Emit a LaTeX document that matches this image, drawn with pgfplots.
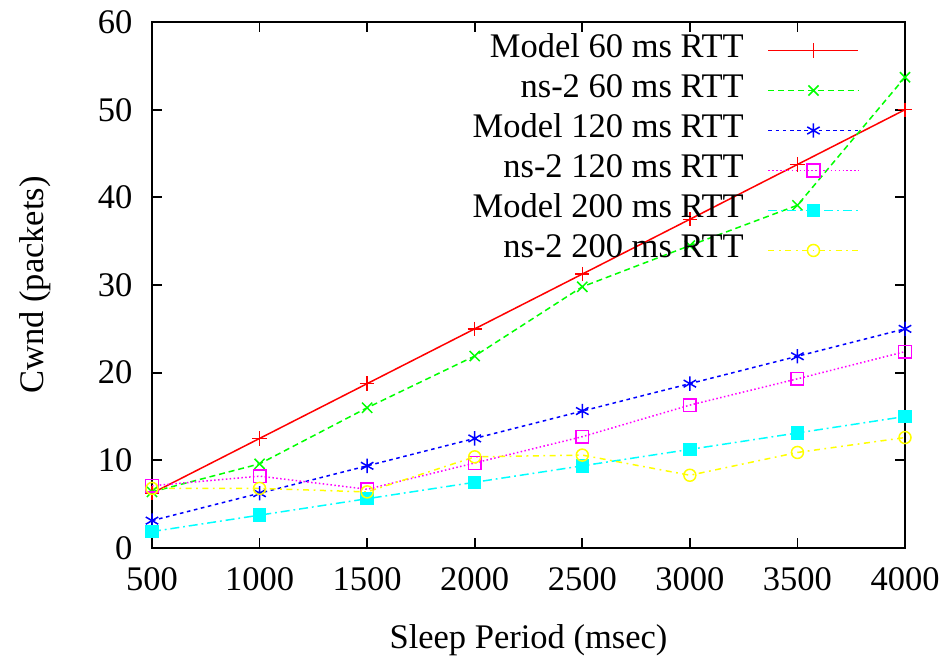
\documentclass[border=0pt]{standalone}
\usepackage{fontspec}
\setmainfont{Liberation Serif}
\usepackage{pgfplots}
\pgfplotsset{compat=1.18}
\definecolor{gpred}{RGB}{255,0,0}
\definecolor{gpgreen}{RGB}{0,255,0}
\definecolor{gpblue}{RGB}{0,0,255}
\definecolor{gpmag}{RGB}{255,0,255}
\definecolor{gpcyan}{RGB}{0,255,255}
\definecolor{gpyel}{RGB}{255,255,0}

\begin{document}
\begin{tikzpicture}
% page size fixed to the reference proportions (3 px per pt)
\useasboundingbox (-50.67pt,-40pt) rectangle (265.33pt,182.67pt);
\begin{axis}[
    at={(0,0)}, anchor=south west,
    scale only axis,
    width=251pt, height=175.33pt,
    xmin=500, xmax=4000, ymin=0, ymax=60,
    xtick={500,1000,1500,2000,2500,3000,3500,4000},
    xticklabels={500,1000,1500,2000,2500,3000,3500,4000},
    ytick={0,10,20,30,40,50,60},
    yticklabels={0,10,20,30,40,50,60},
    font=\fontsize{11.5}{13.5}\selectfont,
    ticklabel style={font=\rmfamily\fontsize{11.5}{13.5}\selectfont},
    tick align=inside,
    major tick length=3.3pt,
    axis line style={line width=0.7pt},
    every tick/.style={black, line width=0.6pt},
    yticklabel style={xshift=-3pt},
    xticklabel style={yshift=-3pt},
    xlabel={Sleep Period (msec)},
    ylabel={Cwnd (packets)},
    xlabel style={at={(axis description cs:0.5,-0.175)}, anchor=center},
    ylabel style={at={(axis description cs:-0.155,0.5)}, anchor=center},
    legend plot pos=right,
    legend cell align=right,
    legend image code/.code={
        \draw[mark repeat=2,mark phase=2] plot coordinates {(0pt,0pt)(15pt,0pt)(30pt,0pt)};
    },
    legend style={
        at={(rel axis cs:0.94,0.985)}, anchor=north east,
        draw=none, fill=none, inner sep=0pt,
        column sep=8pt, row sep=0pt,
        nodes={inner sep=0pt, text height=9pt, text depth=4.33pt},
    },
    every axis plot/.append style={line width=0.5pt},
]
\addplot[gpred, mark=+, mark size=2.4pt, mark options={solid}] coordinates {
(500,6.25) (1000,12.5) (1500,18.75) (2000,25) (2500,31.25) (3000,37.5) (3500,43.75) (4000,50)
};
\addlegendentry{Model 60 ms RTT}
\addplot[gpgreen, dash pattern=on 2pt off 1.3pt, mark=x, mark size=2.4pt, mark options={solid}] coordinates {
(500,6.4) (1000,9.6) (1500,16.0) (2000,21.9) (2500,29.8) (3000,34.5) (3500,39.1) (4000,53.7)
};
\addlegendentry{ns-2 60 ms RTT}
\addplot[gpblue, dash pattern=on 1.2pt off 1.2pt, mark=asterisk, mark size=2.4pt, mark options={solid}] coordinates {
(500,3.125) (1000,6.25) (1500,9.375) (2000,12.5) (2500,15.625) (3000,18.75) (3500,21.875) (4000,25)
};
\addlegendentry{Model 120 ms RTT}
\addplot[gpmag, dash pattern=on 0.5pt off 0.8pt, mark=square, mark size=2.1pt, mark options={solid}] coordinates {
(500,7.1) (1000,8.2) (1500,6.7) (2000,9.7) (2500,12.7) (3000,16.3) (3500,19.3) (4000,22.4)
};
\addlegendentry{ns-2 120 ms RTT}
\addplot[gpcyan, dash pattern=on 3pt off 1.3pt on 0.6pt off 1.3pt, mark=square*, mark size=2pt, mark options={solid}] coordinates {
(500,1.875) (1000,3.75) (1500,5.625) (2000,7.5) (2500,9.375) (3000,11.25) (3500,13.125) (4000,15)
};
\addlegendentry{Model 200 ms RTT}
\addplot[gpyel, dash pattern=on 2pt off 1.5pt on 0.6pt off 1.5pt, mark=o, mark size=2pt, mark options={solid}] coordinates {
(500,6.8) (1000,6.8) (1500,6.4) (2000,10.4) (2500,10.6) (3000,8.3) (3500,10.9) (4000,12.6)
};
\addlegendentry{ns-2 200 ms RTT}
\end{axis}
\end{tikzpicture}
\end{document}
